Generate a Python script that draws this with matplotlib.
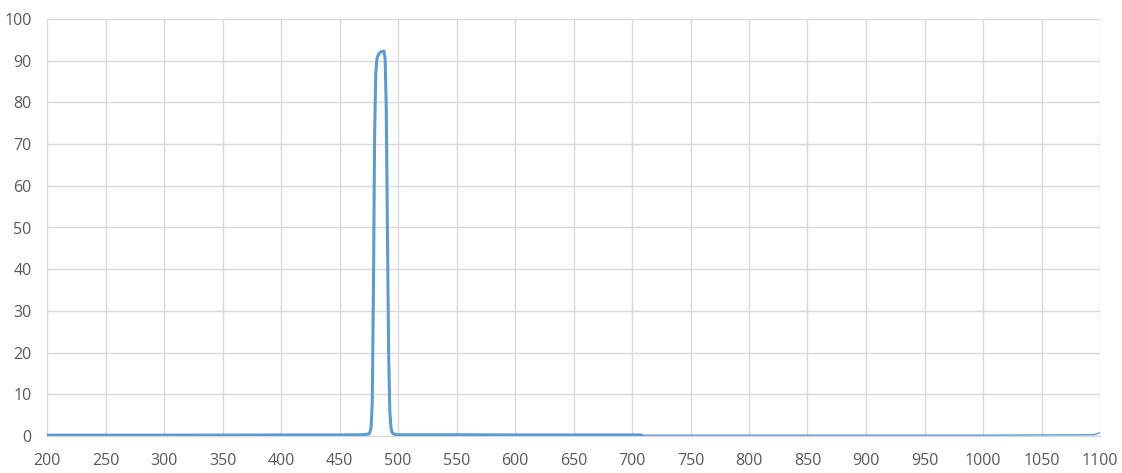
"""Band-pass filter transmission curve (Excel-style line chart)."""

import matplotlib
matplotlib.use("Agg")

import matplotlib.pyplot as plt

# ── Data ─────────────────────────────────────────────────────────────
# measured part, drawn with the thick line
wl_main = [200, 300, 400, 450, 470, 475, 476, 477, 478, 479, 480, 481,
           482, 483, 484, 486, 488, 489, 490, 491, 492, 493, 494, 495,
           497, 500, 550, 600, 650, 708]
tr_main = [0.2, 0.2, 0.25, 0.25, 0.3, 0.5, 0.9, 2.0, 8.0, 35.0, 72.0, 87.0,
           90.5, 91.3, 91.8, 92.2, 92.3, 90.5, 78.0, 48.0, 20.0, 6.0, 2.0, 0.8,
           0.4, 0.3, 0.3, 0.25, 0.25, 0.25]

# extended part, drawn with the thin line
wl_ext = [708, 800, 900, 1000, 1095, 1100]
tr_ext = [0.2, 0.2, 0.2, 0.2, 0.3, 0.8]

x_ticks = list(range(200, 1101, 50))
y_ticks = list(range(0, 101, 10))

LINE = "#5B9BD5"
GRID = "#D9D9D9"
TEXT = "#595959"


def main() -> None:
    fig = plt.figure(figsize=(11.22, 4.73), dpi=100)
    ax = fig.add_axes([47 / 1122, 1 - 436 / 473, (1100 - 47) / 1122, (436 - 19) / 473])

    ax.plot(wl_main, tr_main, color=LINE, lw=2.2, solid_joinstyle="round",
            solid_capstyle="round", zorder=3)
    ax.plot(wl_ext, tr_ext, color=LINE, lw=1.0, zorder=3)

    ax.set_xlim(200, 1100)
    ax.set_ylim(0, 100)
    ax.set_xticks(x_ticks)
    ax.set_yticks(y_ticks)
    ax.grid(True, color=GRID, lw=1.0)
    ax.set_axisbelow(True)

    for side in ("top", "right", "left"):
        ax.spines[side].set_visible(False)
    ax.spines["bottom"].set_color(GRID)
    ax.spines["bottom"].set_linewidth(1.0)

    ax.tick_params(length=0, labelsize=11.5, labelcolor=TEXT)
    ax.tick_params(axis="y", pad=11)
    ax.tick_params(axis="x", pad=12)
    for lab in ax.get_xticklabels() + ax.get_yticklabels():
        lab.set_fontfamily("Open Sans")

    fig.savefig("out.png", dpi=100)
    plt.close(fig)


if __name__ == "__main__":
    main()
